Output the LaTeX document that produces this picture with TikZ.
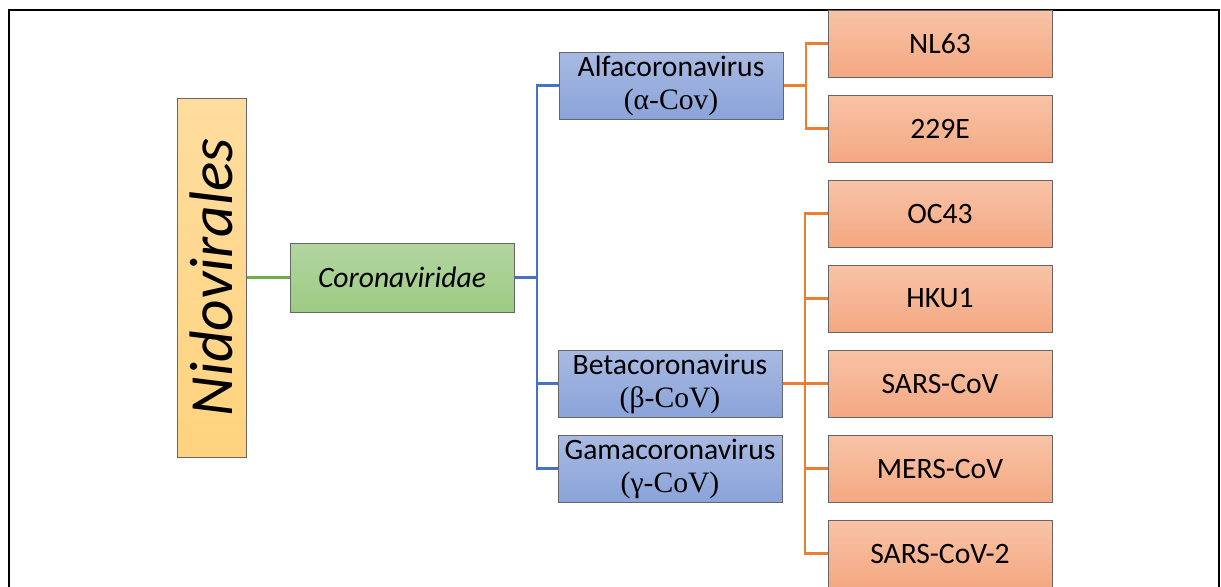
\documentclass[tikz,border=0pt]{standalone}
\usepackage{fontspec}
\setmainfont{Carlito}
\newfontfamily\grkfont{Liberation Serif}
\usetikzlibrary{positioning}
\definecolor{ordtop}{HTML}{FFDD9F}
\definecolor{ordbot}{HTML}{FFD37E}
\definecolor{famtop}{HTML}{B3D5A1}
\definecolor{fambot}{HTML}{9CCB83}
\definecolor{gentop}{HTML}{A8BAE2}
\definecolor{genbot}{HTML}{8AA3D9}
\definecolor{virtop}{HTML}{F8C3A6}
\definecolor{virbot}{HTML}{F4A882}
\definecolor{lgreen}{HTML}{70AD47}
\definecolor{lblue}{HTML}{4472C4}
\definecolor{lorange}{HTML}{ED7D31}
\tikzset{
  taxbox/.style={rectangle, draw=gray!80!black, line width=0.5pt, top color=#1top, bottom color=#1bot,
                 align=center, inner sep=0pt, font=\fontsize{14.8}{16.5}\selectfont},
  genbox/.style={taxbox=gen, minimum width=112pt, minimum height=33.5pt},
  virbox/.style={taxbox=vir, minimum width=112pt, minimum height=33.5pt},
  link/.style={draw=#1, line width=1.2pt},
}

\begin{document}
\begin{tikzpicture}[x=0.5pt, y=-0.5pt, node distance=8.5pt]
    \clip (0,0) rectangle (1221,586);
    \draw[line width=1pt] (8.5,10) rectangle (1219,640);
    % order and family
    \node[taxbox=ord, minimum width=34.5pt, minimum height=179.5pt] (nido) at (211.5,277.5)
         {\rotatebox{90}{\fontsize{30.7}{32}\selectfont\itshape Nidovirales}};
    \node[taxbox=fam, minimum width=112pt, minimum height=34.5pt] (corona) at (402,277.5)
         {\itshape Coronaviridae};
    % species
    \node[virbox] (nl63) at (940,43.5) {NL63};
    \node[virbox, below=of nl63] (e229) {229E};
    \node[virbox, below=of e229] (oc43) {OC43};
    \node[virbox, below=of oc43] (hku1) {HKU1};
    \node[virbox, below=of hku1] (sars) {SARS-CoV};
    \node[virbox, below=of sars] (mers) {MERS-CoV};
    \node[virbox, below=of mers] (sars2) {SARS-CoV-2};
    % genera
    \node[genbox] (alpha) at (671,85.5) {Alfacoronavirus\\{\grkfont (α-Cov)}};
    \node[genbox, left=22.5pt of sars] (beta) {Betacoronavirus\\{\grkfont (β-CoV)}};
    \node[genbox, left=22.5pt of mers] (gamma) {Gamacoronavirus\\{\grkfont (γ-CoV)}};
    % links
    \draw[link=lgreen] (nido) -- (corona);
    \draw[link=lblue] (corona.east) -- ++(22.5,0) coordinate (bj);
    \draw[link=lblue] (bj) |- (alpha.west); \draw[link=lblue] (bj) |- (beta.west);
    \draw[link=lblue] (bj) |- (gamma.west);
    \draw[link=lorange] (alpha.east) -- ++(22.5,0) coordinate (aj);
    \draw[link=lorange] (aj) |- (nl63.west); \draw[link=lorange] (aj) |- (e229.west);
    \draw[link=lorange] (beta.east) -- ++(22.5,0) coordinate (cj);
    \draw[link=lorange] (cj) |- (oc43.west); \draw[link=lorange] (cj) |- (hku1.west);
    \draw[link=lorange] (cj) |- (sars.west); \draw[link=lorange] (cj) |- (mers.west);
    \draw[link=lorange] (cj) |- (sars2.west);
  \end{tikzpicture}
\end{document}
